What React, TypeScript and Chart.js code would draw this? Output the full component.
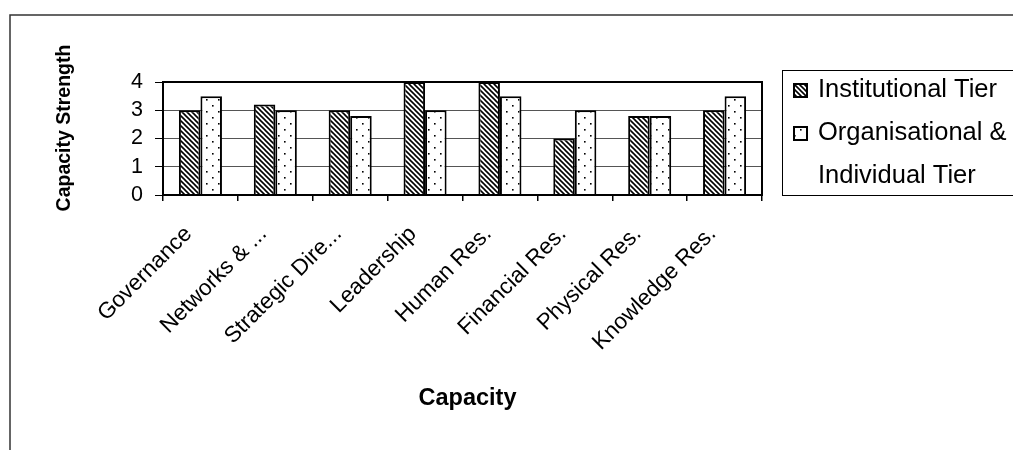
import React, { useEffect, useRef } from "react";
import { Chart, registerables } from "chart.js";

Chart.register(...registerables);

const categories = [
  "Governance",
  "Networks & ...",
  "Strategic Dire...",
  "Leadership",
  "Human Res.",
  "Financial Res.",
  "Physical Res.",
  "Knowledge Res.",
];
const institutionalTier = [3, 3.2, 3, 4, 4, 2, 2.8, 3];
const organisationalTier = [3.5, 3, 2.8, 3, 3.5, 3, 2.8, 3.5];
const seriesNames = ["Institutional Tier", "Organisational &\nIndividual Tier"];
const yTicks = [0, 1, 2, 3, 4];
const yTitle = "Capacity Strength";
const xTitle = "Capacity";

const FONT = "'Liberation Sans', Arial, sans-serif";

function makeHatch(): CanvasPattern | string {
  const s = 5;
  const c = document.createElement("canvas");
  c.width = s;
  c.height = s;
  const g = c.getContext("2d");
  if (!g) return "#888";
  g.fillStyle = "#fff";
  g.fillRect(0, 0, s, s);
  g.strokeStyle = "#000";
  g.lineWidth = 1.6;
  for (const k of [-1, 0, 1]) {
    g.beginPath();
    g.moveTo(k * s - 1, -1);
    g.lineTo(k * s + s + 1, s + 1);
    g.stroke();
  }
  return g.createPattern(c, "repeat") || "#888";
}

function makeDots(): CanvasPattern | string {
  const s = 12;
  const c = document.createElement("canvas");
  c.width = s;
  c.height = s;
  const g = c.getContext("2d");
  if (!g) return "#fff";
  g.fillStyle = "#fff";
  g.fillRect(0, 0, s, s);
  g.fillStyle = "#000";
  g.fillRect(2, 3, 1.6, 1.6);
  g.fillRect(8, 9, 1.6, 1.6);
  return g.createPattern(c, "repeat") || "#fff";
}

export default function App() {
  const ref = useRef<HTMLCanvasElement | null>(null);

  useEffect(() => {
    if (!ref.current) return;
    const hatch = makeHatch();
    const dots = makeDots();

    const decor = {
      id: "decor",
      afterDraw(chart: any) {
        const ctx = chart.ctx as CanvasRenderingContext2D;
        const a = chart.chartArea;
        ctx.save();
        // outer frame
        ctx.strokeStyle = "#333";
        ctx.lineWidth = 1.5;
        ctx.beginPath();
        ctx.moveTo(10, 450);
        ctx.lineTo(10, 15);
        ctx.lineTo(1013, 15);
        ctx.stroke();
        // plot border
        ctx.strokeStyle = "#000";
        ctx.lineWidth = 2;
        ctx.strokeRect(a.left, a.top, a.right - a.left, a.bottom - a.top);
        // y title
        ctx.fillStyle = "#000";
        ctx.font = `bold 19.5px ${FONT}`;
        ctx.textAlign = "center";
        ctx.textBaseline = "middle";
        ctx.save();
        ctx.translate(65, 128);
        ctx.rotate(-Math.PI / 2);
        ctx.fillText(yTitle, 0, 0);
        ctx.restore();
        // x title
        ctx.font = `bold 23.5px ${FONT}`;
        ctx.fillText(xTitle, (a.left + a.right) / 2 + 5, 399);
        // legend
        ctx.strokeStyle = "#000";
        ctx.lineWidth = 1;
        ctx.strokeRect(782.5, 70.5, 240, 125);
        const fills = [hatch, dots];
        const rows = [90, 133];
        ctx.font = `25.5px ${FONT}`;
        ctx.textAlign = "left";
        seriesNames.forEach((name, i) => {
          const y = rows[i];
          ctx.fillStyle = fills[i] as any;
          ctx.fillRect(794, y - 6, 13, 13);
          ctx.lineWidth = 2;
          ctx.strokeRect(794, y - 6, 13, 13);
          ctx.fillStyle = "#000";
          name.split("\n").forEach((line, j) => {
            ctx.fillText(line, 818, y + j * 43);
          });
        });
        ctx.restore();
      },
    };

    const chart = new Chart(ref.current, {
      type: "bar",
      data: {
        labels: categories,
        datasets: [
          {
            label: seriesNames[0],
            data: institutionalTier,
            backgroundColor: hatch as any,
            borderColor: "#000",
            borderWidth: 2,
            barPercentage: 1,
            categoryPercentage: 0.575,
          },
          {
            label: seriesNames[1],
            data: organisationalTier,
            backgroundColor: dots as any,
            borderColor: "#000",
            borderWidth: 2,
            barPercentage: 1,
            categoryPercentage: 0.575,
          },
        ],
      },
      options: {
        animation: false,
        responsive: true,
        maintainAspectRatio: false,
        layout: { padding: { top: 82, right: 251, bottom: 0, left: 0 } },
        plugins: {
          legend: { display: false },
          tooltip: { enabled: false },
        },
        scales: {
          x: {
            afterFit(scale: any) {
              scale.height = 255;
            },
            grid: {
              display: true,
              drawOnChartArea: false,
              offset: true,
              tickLength: 6,
              tickColor: "#000",
              lineWidth: 1.5,
            },
            border: { display: true, color: "#000", width: 2 },
            ticks: {
              autoSkip: false,
              minRotation: 45,
              maxRotation: 45,
              padding: 20,
              labelOffset: -12,
              color: "#000",
              font: { family: FONT, size: 22.5 },
            },
          },
          y: {
            min: 0,
            max: 4,
            afterFit(scale: any) {
              scale.width = 163;
            },
            afterBuildTicks(scale: any) {
              scale.ticks = yTicks.map((v) => ({ value: v }));
            },
            grid: {
              color: "#555",
              lineWidth: 1,
              tickLength: 8,
              tickColor: "#000",
            },
            border: { display: true, color: "#000", width: 2 },
            ticks: {
              autoSkip: false,
              padding: 12,
              color: "#000",
              font: { family: FONT, size: 21.5 },
            },
          },
        },
      },
      plugins: [decor],
    });
    return () => chart.destroy();
  }, []);

  return (
    <div style={{ position: "absolute", left: 0, top: 0, width: 1013, height: 450, background: "#fff" }}>
      <canvas ref={ref} />
    </div>
  );
}
